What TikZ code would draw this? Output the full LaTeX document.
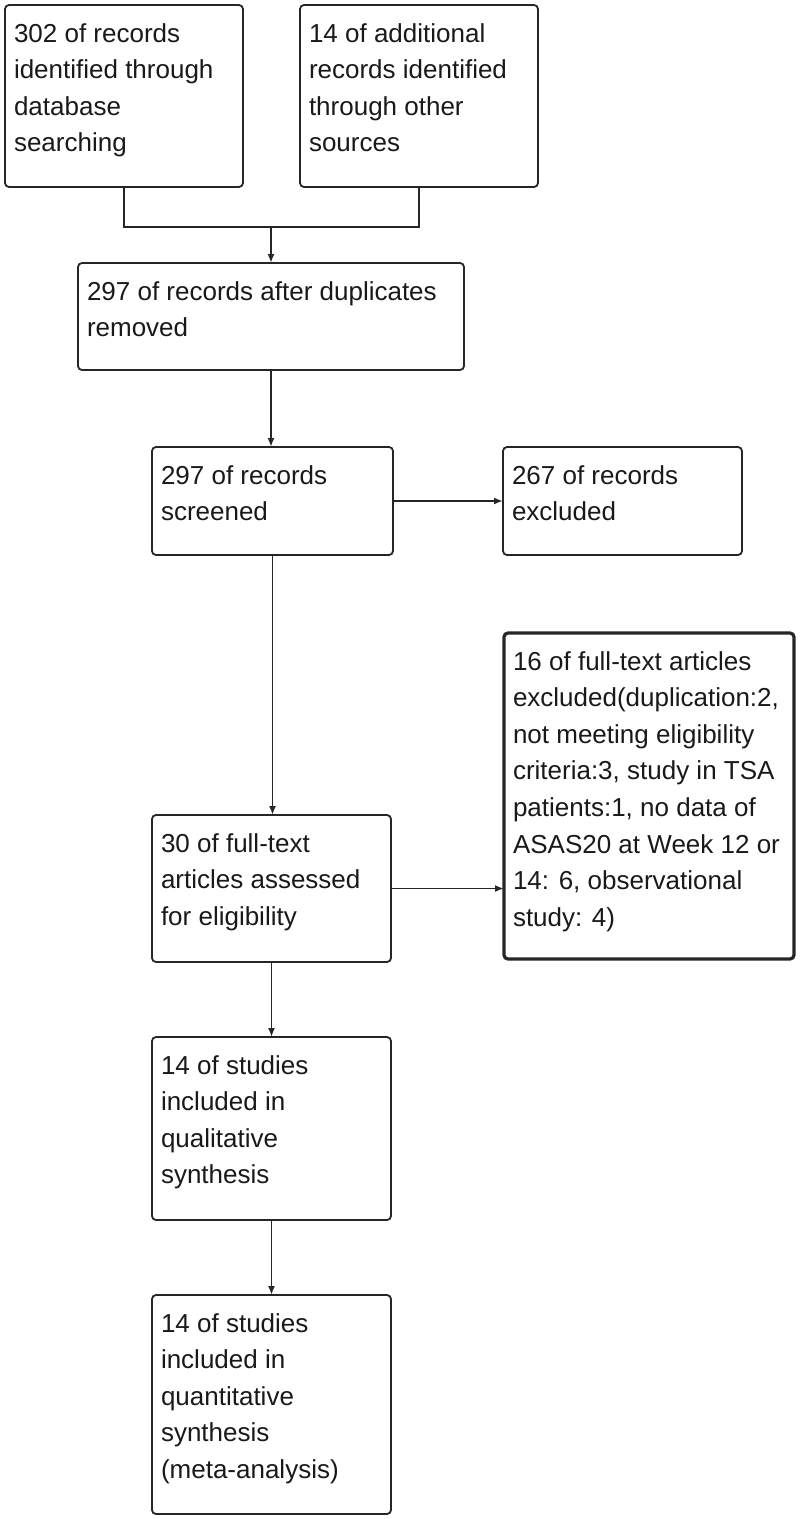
\documentclass[tikz,border=0pt]{standalone}
\usepackage{fontspec}
\setmainfont{Liberation Sans}
\usetikzlibrary{arrows.meta}
\newcommand{\bt}[3]{\parbox[c][#2pt][t]{\dimexpr#1pt-18pt\relax}{\raggedright\rule{0pt}{37pt}#3}}
\tikzset{
  box/.style={draw=black!85, line width=1.8pt, rounded corners=4pt, anchor=north west,
    inner xsep=9pt, inner ysep=0pt, outer sep=0pt,
    font=\fontsize{26pt}{36.6pt}\selectfont, text=black!90},
  thickbox/.style={box, line width=3.2pt},
  conn/.style={draw=black!85, line width=1.8pt},
  arr/.style={conn, -{Latex[length=9pt,width=7pt]}}
}
\begin{document}
\begin{tikzpicture}[x=1pt,y=-1pt]
\useasboundingbox (0,0) rectangle (800,1519);
\node[box] (b1) at (5,5) {\bt{238}{182}{302 of records\\identified through\\database\\searching}};
\node[box] (b2) at (300,5) {\bt{238}{182}{14 of additional\\records identified\\through other\\sources}};
\node[box] (b3) at (78,263) {\bt{386}{107}{297 of records after duplicates\\removed}};
\node[box] (b4) at (152,447) {\bt{241}{108}{297 of records\\screened}};
\node[box] (b5) at (503,447) {\bt{239}{108}{267 of records\\excluded}};
\node[thickbox] (b6) at (504,633) {\bt{290}{326}{16 of full-text articles\\excluded(duplication:2,\\not meeting eligibility\\criteria:3, study in TSA\\patients:1, no data of\\ASAS20 at Week 12 or\\14: 6, observational\\study: 4)}};
\node[box] (b7) at (152,815) {\bt{239}{147}{30 of full-text\\articles assessed\\for eligibility}};
\node[box] (b8) at (152,1037) {\bt{239}{183}{14 of studies\\included in\\qualitative\\synthesis}};
\node[box] (b9) at (152,1295) {\bt{239}{219}{14 of studies\\included in\\quantitative\\synthesis\\(meta-analysis)}};
\coordinate (j) at (b3.north |- 0,227);
\draw[conn] (b1.south) |- (j) -| (b2.south);
\draw[arr] (j) -- (b3.north);
\draw[arr] (b3.south) -- (b3.south |- b4.north);
\draw[arr] (b4.east) -- (b5.west);
\draw[arr] (b4.south) -- (b4.south |- b7.north);
\draw[arr] (b7.east) -- (b7.east -| b6.west);
\draw[arr] (b7.south) -- (b8.north);
\draw[arr] (b8.south) -- (b9.north);
\end{tikzpicture}
\end{document}
